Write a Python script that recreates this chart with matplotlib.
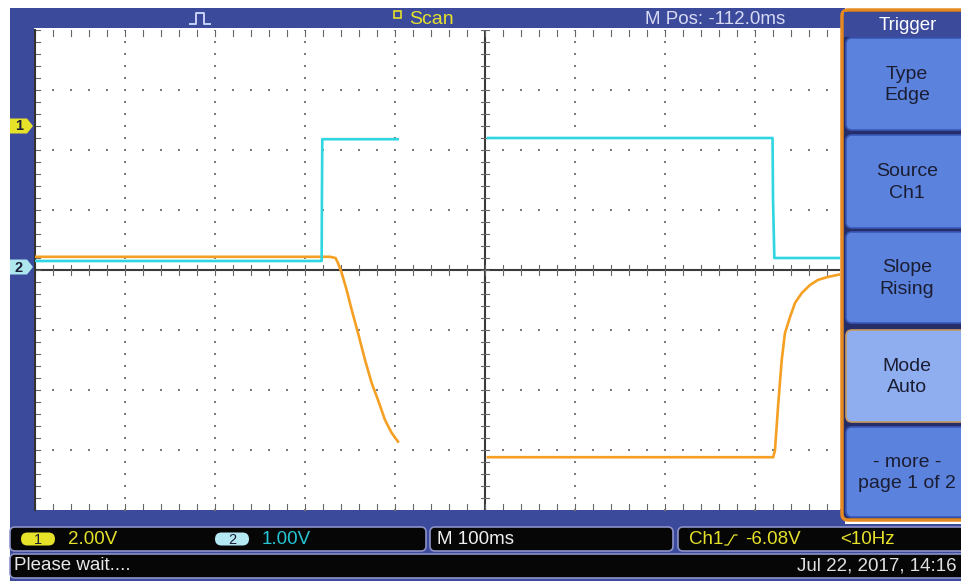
import matplotlib
matplotlib.use("Agg")
import matplotlib.pyplot as plt
from matplotlib.patches import Rectangle, FancyBboxPatch, Polygon
import numpy as np

plt.rcParams['font.family'] = ['Liberation Sans', 'DejaVu Sans']

# ---------------- data ----------------
# horizontal scale 100 ms/div, screen centre = 0 ms
time_per_div = 100.0
ch1_volts_per_div = 2.0
ch2_volts_per_div = 1.0
ch1_offset_div = 2.4      # position of the "1" ground marker
ch2_offset_div = 0.0      # position of the "2" ground marker

# Channel 1 (orange), volts – current sweep segment (scan mode)
ch1_t_a = [-500, -172, -166, -163.3, -159.2, -153.7, -148.1, -141.1, -133.3,
           -125.9, -118.9, -111.1, -103.7, -96.7]
ch1_v_a = [-4.36, -4.36, -4.40, -4.57, -4.90, -5.47, -6.13, -6.90, -7.80,
           -8.57, -9.13, -9.80, -10.23, -10.52]
# Channel 1 – previous sweep (right part)
ch1_t_b = [3.3, 100, 200, 320.3, 322.2, 325.9, 329.7, 333.3, 338.9, 344.4,
           351.9, 361.1, 370.0, 381.1, 394.0]
ch1_v_b = [-11.04, -11.04, -11.04, -11.04, -10.80, -9.23, -7.80, -6.90, -6.37,
           -5.90, -5.57, -5.30, -5.13, -5.03, -4.95]

# Channel 2 (cyan), volts
ch2_t_a = [-500, -181.5, -181.2, -180.8, -97.0]
ch2_v_a = [0.15, 0.15, 1.17, 2.18, 2.18]
ch2_t_b = [3.3, 319.5, 320.0, 321.5, 394.0]
ch2_v_b = [2.20, 2.20, 1.20, 0.20, 0.20]

ch1_label = "2.00V"
ch2_label = "1.00V"
timebase_label = "M 100ms"
trigger_label = "-6.08V"
freq_label = "<10Hz"
mpos_label = "M Pos: -112.0ms"
date_label = "Jul 22, 2017, 14:16"
status_label = "Please wait...."
menu_title = "Trigger"
menu_items = ["Type\nEdge", "Source\nCh1", "Slope\nRising", "Mode\nAuto", "- more -\npage 1 of 2"]

# ---------------- colours ----------------
BLUE = '#3c4a9c'
NAVY = '#262e6a'
CYAN = '#2fd6e2'
ORANGE = '#f5a023'
YELLOW = '#e6e22a'
BTN = '#5b82dc'
BTN_SEL = '#8eaef0'
TXT_DARK = '#1b1d33'

W, H = 962, 581
fig = plt.figure(figsize=(W / 100, H / 100), dpi=100)
fig.patch.set_facecolor('white')

# background / decoration axes in pixel coordinates
bg = fig.add_axes([0, 0, 1, 1], zorder=0)
bg.set_xlim(0, W)
bg.set_ylim(H, 0)
bg.axis('off')

bg.add_patch(Rectangle((10, 8), 835, 20, color=BLUE, lw=0))      # header
bg.add_patch(Rectangle((10, 8), 24, 520, color=BLUE, lw=0))      # left bar
bg.add_patch(Rectangle((10, 509), 835, 72, color=BLUE, lw=0))    # bottom
bg.add_patch(Rectangle((10, 524), 952, 57, color=BLUE, lw=0))

# ---------------- scope screen ----------------
px_l, px_r, px_t, px_b = 35, 840, 30, 510
ax = fig.add_axes([px_l / W, (H - px_b) / H, (px_r - px_l) / W, (px_b - px_t) / H], zorder=1)
ax.set_facecolor('white')
xmax = (px_r - 485) / 90 * time_per_div
ax.set_xlim(-5 * time_per_div, xmax)
ax.set_ylim(-4, 4)
for s in ax.spines.values():
    s.set_visible(False)
ax.spines['left'].set_visible(True)
ax.spines['left'].set_color('#333333')
ax.spines['left'].set_linewidth(1.5)
ax.set_xticks([])
ax.set_yticks([])

dot_c = '#7c7c7c'
# dotted major grid
yy = np.arange(-4, 4.01, 0.2)
for xv in [-400, -300, -200, -100, 100, 200, 300]:
    ax.scatter(np.full_like(yy, xv), yy, s=2.6, marker='s', color=dot_c, lw=0, zorder=1)
xx = np.arange(-500, xmax, 20)
for yv in [-3, -2, -1, 1, 2, 3]:
    ax.scatter(xx, np.full_like(xx, yv), s=2.6, marker='s', color=dot_c, lw=0, zorder=1)

# centre cross with ticks
ax.axhline(0, color='#3a3a3a', lw=1.5, zorder=2)
ax.axvline(0, color='#3a3a3a', lw=1.5, zorder=2)
for xv in xx:
    ax.plot([xv, xv], [-0.08, 0.08], color='#666666', lw=0.8, zorder=2)
    ax.plot([xv, xv], [4, 3.9], color='#666666', lw=0.8, zorder=2)
    ax.plot([xv, xv], [-4, -3.9], color='#666666', lw=0.8, zorder=2)
for yv in yy:
    ax.plot([-4.5, 4.5], [yv, yv], color='#666666', lw=0.8, zorder=2)
    ax.plot([-500, -494], [yv, yv], color='#666666', lw=0.8, zorder=2)

# traces (converted to screen divisions through channel scale/offset)
def ch1_div(v):
    return np.asarray(v) / ch1_volts_per_div + ch1_offset_div

def ch2_div(v):
    return np.asarray(v) / ch2_volts_per_div + ch2_offset_div

ax.plot(ch1_t_a, ch1_div(ch1_v_a), color=ORANGE, lw=1.9, zorder=4)
ax.plot(ch1_t_b, ch1_div(ch1_v_b), color=ORANGE, lw=1.9, zorder=4)
ax.plot(ch2_t_a, ch2_div(ch2_v_a), color=CYAN, lw=1.9, zorder=5)
ax.plot(ch2_t_b, ch2_div(ch2_v_b), color=CYAN, lw=1.9, zorder=5)

# ---------------- overlay (labels, menu) ----------------
ov = fig.add_axes([0, 0, 1, 1], zorder=3)
ov.set_xlim(0, W)
ov.set_ylim(H, 0)
ov.axis('off')
ov.patch.set_alpha(0)

# channel ground markers on left bar
def marker(yc, fc, label):
    ov.add_patch(Polygon([(10, yc - 7.5), (27, yc - 7.5), (33, yc), (27, yc + 7.5), (10, yc + 7.5)],
                         closed=True, fc=fc, ec='none'))
    ov.text(19, yc + 0.5, label, ha='center', va='center', fontsize=10.5, fontweight='bold',
            color=TXT_DARK)

y1 = 270 - ch1_offset_div * 60
y2 = 270 - ch2_offset_div * 60 - 3
marker(y1, YELLOW, '1')
marker(y2, '#aee6f0', '2')

# header items
ov.plot([190, 196, 196, 204, 204, 210], [24, 24, 13, 13, 24, 24], color='#c8d0f4', lw=1.4)
ov.add_patch(Rectangle((394, 11), 7, 7, fc='none', ec=YELLOW, lw=1.2))
ov.text(409, 19, 'Scan', color=YELLOW, fontsize=14, va='center', ha='left')
ov.text(645, 19, mpos_label, color='#d6daf2', fontsize=13.5, va='center', ha='left')

# bottom readouts
def box(x0, y0, w, h):
    ov.add_patch(FancyBboxPatch((x0, y0), w, h, boxstyle='round,pad=0,rounding_size=5',
                                fc='#060606', ec='#8c92c8', lw=1.2))

box(10, 527, 416, 24)
box(430, 527, 243, 24)
box(678, 527, 300, 24)
box(10, 554, 968, 24)

ov.add_patch(FancyBboxPatch((21, 532.5), 34, 13, boxstyle='round,pad=0,rounding_size=6.5',
                            fc=YELLOW, ec='none'))
ov.text(38, 539.5, '1', ha='center', va='center', fontsize=10.5, color=TXT_DARK)
ov.text(68, 539, ch1_label, color=YELLOW, fontsize=13.5, va='center', ha='left')
ov.add_patch(FancyBboxPatch((215, 532.5), 34, 13, boxstyle='round,pad=0,rounding_size=6.5',
                            fc='#b4e8f2', ec='none'))
ov.text(232, 539.5, '2', ha='center', va='center', fontsize=10.5, color=TXT_DARK)
ov.text(262, 539, ch2_label, color='#25c6d6', fontsize=13.5, va='center', ha='left')
ov.text(437, 539, timebase_label, color='#f0f0f0', fontsize=13.5, va='center', ha='left')
ov.text(689, 540, 'Ch1', color=YELLOW, fontsize=13.5, va='center', ha='left')
ov.plot([725, 728, 734, 737], [545, 545, 535, 535], color=YELLOW, lw=0.9)
ov.text(745, 539, trigger_label, color=YELLOW, fontsize=13.5, va='center', ha='left')
ov.text(840, 539, freq_label, color=YELLOW, fontsize=13.5, va='center', ha='left')
ov.text(14, 566, status_label, color='#e8e8e8', fontsize=13.5, va='center', ha='left')
ov.text(957, 566, date_label, color='#e0e0e0', fontsize=13.5, va='center', ha='right')

# right menu panel
ov.add_patch(FancyBboxPatch((842, 10), 140, 510, boxstyle='round,pad=0,rounding_size=6',
                            fc=NAVY, ec='#e58a22', lw=2.5))
ov.add_patch(Rectangle((844, 12), 120, 25, fc=BLUE, ec='none'))
ov.text(908, 25, menu_title, color='white', fontsize=13.5, ha='center', va='center')
btn_y = [(38, 130), (135, 228), (232, 323), (330, 422), (427, 517)]
for i, ((ya, yb), label) in enumerate(zip(btn_y, menu_items)):
    sel = (i == 3)
    ov.add_patch(FancyBboxPatch((846, ya), 130, yb - ya, boxstyle='round,pad=0,rounding_size=6',
                                fc=BTN_SEL if sel else BTN,
                                ec='#c89a60' if sel else '#3a58b8', lw=1.2))
    ov.text(907, (ya + yb) / 2 + 1, label, color=TXT_DARK, fontsize=14, ha='center',
            va='center', linespacing=1.35)

fig.savefig('out.png', dpi=100, facecolor='white')
